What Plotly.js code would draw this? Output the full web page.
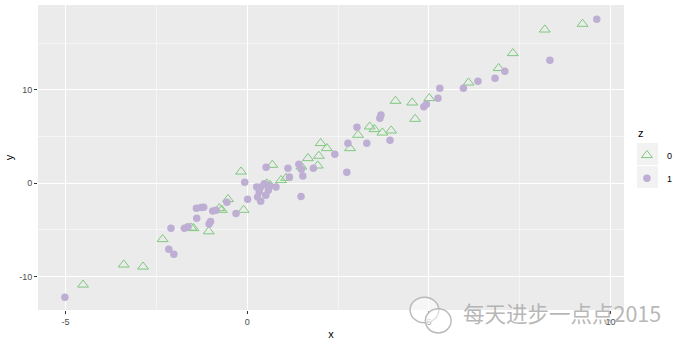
<!DOCTYPE html>
<html>
<head>
<meta charset="utf-8">
<script src="https://cdn.plot.ly/plotly-3.0.1.min.js"></script>
<style>html,body{margin:0;padding:0;background:#fff;}#chart{width:686px;height:345px;}</style>
</head>
<body>
<div id="chart"></div>
<script>
// z = 0 (open triangles)
var x0 = [-4.52,-3.40,-2.87,-2.33,-1.54,-1.48,-1.06,-0.77,-0.70,-0.53,-0.10,-0.17,0.54,0.63,0.93,1.07,0.69,1.49,1.67,1.97,1.94,2.02,2.19,2.83,3.05,3.37,3.50,3.72,3.96,4.08,4.54,4.62,5.01,6.09,6.92,7.31,8.19,9.23];
var y0 = [-10.87,-8.72,-8.94,-6.00,-4.76,-4.82,-5.16,-2.68,-2.86,-1.71,-2.86,1.24,-0.04,-0.21,0.32,0.57,1.96,1.78,2.68,2.93,1.89,4.29,3.75,3.75,5.18,6.07,5.79,5.42,5.64,8.82,8.64,6.89,9.11,10.78,12.33,13.93,16.46,17.07];
// z = 1 (filled circles)
var x1 = [-5.02,-2.16,-2.02,-2.10,-1.73,-1.63,-1.39,-1.40,-1.27,-1.20,-0.95,-0.86,-1.01,-1.05,-0.56,-0.31,-0.07,0.01,0.26,0.37,0.33,0.28,0.37,0.51,0.58,0.61,0.47,0.79,1.16,0.52,1.12,1.42,1.49,1.53,1.48,1.82,2.41,2.74,2.77,3.02,3.29,3.65,3.68,3.93,4.86,4.93,5.25,5.30,5.95,6.35,6.82,7.09,8.33,9.62];
var y1 = [-12.22,-7.07,-7.61,-4.82,-4.82,-4.65,-3.75,-2.68,-2.61,-2.57,-2.97,-2.90,-4.11,-4.36,-2.04,-3.25,0.11,-1.71,-0.39,-0.39,-0.93,-1.47,-1.93,-1.29,-0.75,-0.29,-0.04,-0.39,0.68,1.71,1.61,2.04,1.50,0.78,-1.43,1.61,3.11,1.18,4.29,6.00,4.29,6.97,7.32,4.61,8.21,8.47,9.11,10.18,10.18,10.93,11.25,12.00,13.18,17.58];

var xTickVals = [-5, 0, 5, 10];
var xTickText = ["-5", "0", "5", "10"];
var yTickVals = [-10, 0, 10];
var yTickText = ["-10", "0", "10"];
var groupNames = ["0", "1"];
var legendTitle = "z";
var watermark = "每天进步一点点2015";

var traces = [
  {x: x0, y: y0, name: groupNames[0], legendgroup: "g0", type: "scatter", mode: "markers",
   marker: {symbol: "triangle-up-open", size: 9.5, color: "#7FC97F", line: {width: 1, color: "#7FC97F"}}},
  {x: x1, y: y1, name: groupNames[1], legendgroup: "g1", type: "scatter", mode: "markers",
   marker: {symbol: "circle", size: 7.5, color: "#BEAED4", line: {width: 0}}}
];

var axisBase = {
  showgrid: true, gridcolor: "#FFFFFF", gridwidth: 1.1, zeroline: false,
  ticks: "outside", ticklen: 3, tickwidth: 1, tickcolor: "#333333",
  tickfont: {family: "Liberation Sans, Arial, sans-serif", size: 9, color: "#4D4D4D"},
  showline: false
};

var layout = {
  width: 686, height: 345,
  margin: {l: 38, r: 62, t: 5, b: 35, pad: 0},
  paper_bgcolor: "#FFFFFF", plot_bgcolor: "#EBEBEB",
  font: {family: "Liberation Sans, Arial, sans-serif"},
  xaxis: Object.assign({}, axisBase, {
    range: [-5.76, 10.37], tickmode: "array", tickvals: xTickVals, ticktext: xTickText,
    minor: {tickvals: [-2.5, 2.5, 7.5], showgrid: true, gridcolor: "#FFFFFF", gridwidth: 0.5, ticklen: 0},
    title: {text: "x", font: {size: 11, color: "#000000"}, standoff: 4}
  }),
  yaxis: Object.assign({}, axisBase, {
    range: [-13.58, 19.1], tickmode: "array", tickvals: yTickVals, ticktext: yTickText,
    minor: {tickvals: [-5, 5, 15], showgrid: true, gridcolor: "#FFFFFF", gridwidth: 0.5, ticklen: 0},
    title: {text: "y", font: {size: 11, color: "#000000"}, standoff: 3}
  }),
  showlegend: true,
  legend: {
    x: 1.005, xanchor: "left", y: 0.555, yanchor: "top",
    bgcolor: "rgba(0,0,0,0)", borderwidth: 0,
    tracegroupgap: 4,
    font: {size: 9, color: "#000000"}
  },
  shapes: [
    {type: "rect", xref: "paper", yref: "paper", x0: 1.0222, x1: 1.058, y0: 0.4754, y1: 0.5475, fillcolor: "#F2F2F2", line: {width: 0}, layer: "below"},
    {type: "rect", xref: "paper", yref: "paper", x0: 1.0222, x1: 1.058, y0: 0.40, y1: 0.4721, fillcolor: "#F2F2F2", line: {width: 0}, layer: "below"},
    {type: "circle", xref: "paper", yref: "paper", x0: 0.635, x1: 0.684, y0: -0.042, y1: 0.042, line: {color: "rgba(175,175,175,0.85)", width: 1.5}, fillcolor: "rgba(255,255,255,0.55)"},
    {type: "circle", xref: "paper", yref: "paper", x0: 0.661, x1: 0.705, y0: -0.075, y1: 0.004, line: {color: "rgba(175,175,175,0.85)", width: 1.5}, fillcolor: "rgba(255,255,255,0.55)"}
  ],
  annotations: [
    {text: legendTitle, xref: "paper", yref: "paper", x: 1.0205, y: (310 - 133) / 305, xanchor: "left", yanchor: "middle",
     showarrow: false, font: {size: 11, color: "#000000"}},
    {text: watermark, xref: "paper", yref: "paper", x: 0.7218, y: -0.008, xanchor: "left", yanchor: "middle",
     showarrow: false, font: {family: "Noto Sans CJK SC", size: 21.5, color: "rgba(170,170,170,0.85)"}}
  ]
};

Plotly.newPlot("chart", traces, layout, {displayModeBar: false, staticPlot: true});
</script>
</body>
</html>
